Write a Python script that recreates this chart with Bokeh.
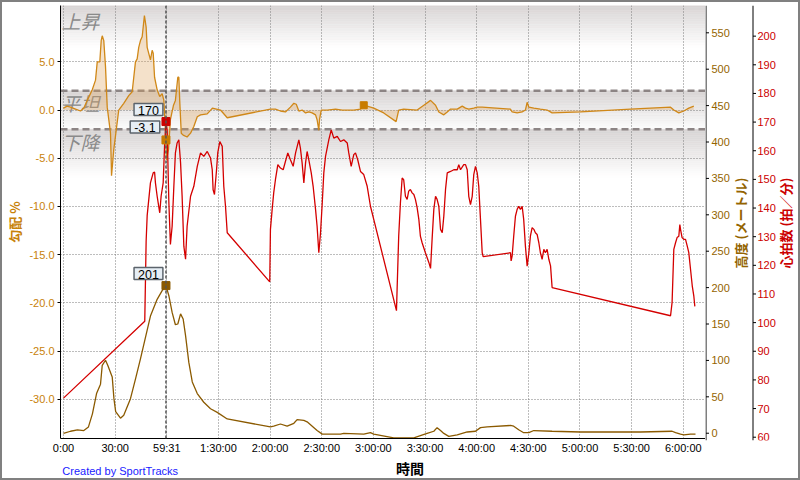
import math
import numpy as np
from bokeh.plotting import figure
from bokeh.layouts import column, row
from bokeh.models import Range1d, FixedTicker, NumeralTickFormatter, Span, Label
from bokeh.core.properties import value
from bokeh.embed import file_html
from bokeh.resources import INLINE

# ---------------- data (time in minutes) ----------------
grade_t = [0, 2.1, 4.1, 7.0, 9.9, 11.8, 13.8, 16.7, 18.6, 19.6, 21.1, 21.9, 22.5, 23.4, 24.4, 25.4, 27.3, 27.9, 29.2, 32.1,
           35.0, 37.9, 39.9, 41.8, 42.8, 43.7, 44.7, 45.7, 47.0, 48.0, 48.6, 50.5, 51.5, 52.1, 52.9, 54.4, 55.9, 57.3, 58.3, 59.5,
           59.8, 61.0, 62.1, 63.9, 65.0, 66.4, 67.0, 67.5, 68.4, 69.5, 71.8, 73.8, 75.7, 77.7, 79.6, 83.5, 86.5, 91.2, 95.1, 120.2,
           123.1, 126.0, 128.9, 131.8, 133.8, 135.2, 136.7, 138.6, 140.6, 142.5, 144.4, 146.4, 147.3, 148.3, 148.7, 149.7, 153.2, 158.0, 161.9, 168.6,
           172.5, 174.4, 178.3, 180.2, 186.0, 193.2, 194.7, 197.6, 205.4, 209.3, 213.2, 216.1, 218.0, 220.9, 222.9, 224.8, 228.7, 231.6, 233.5, 235.4,
           238.3, 240.3, 243.2, 259.6, 260.6, 263.5, 266.4, 268.3, 269.3, 270.3, 273.2, 277.0, 280.9, 283.8, 300.3, 329.3, 352.6, 354.5, 357.4, 360.3,
           363.2, 366.1]
grade_v = [0.2, 0.4, 0.3, 0.1, -0.1, 0.2, 1.0, 2.1, 3.1, 5.0, 5.0, 7.2, 7.7, 7.2, 4.5, 0.3, -2.4, -6.8, -4.1, 0.0,
           0.7, 1.5, 1.9, 5.0, 5.3, 6.5, 7.2, 7.6, 9.8, 8.6, 6.5, 5.2, 6.2, 5.9, 3.4, 2.1, 1.4, 1.7, 1.0, -3.1,
           -5.2, -4.1, -1.0, 0.5, 1.0, 3.4, 3.4, 1.0, -2.4, -2.6, -2.8, -2.4, -1.7, -0.7, -0.5, -0.4, 0.2, 0.0, -0.8, 0.1,
           0.1, -0.1, -0.2, 0.3, 0.7, 0.6, -0.1, 0.0, -0.3, -0.2, -0.3, -0.5, -1.0, -2.1, -1.0, 0.0, 0.0, 0.1, 0.0, 0.0,
           0.1, 0.5, 0.3, 0.2, -0.3, -1.2, 0.0, 0.1, 0.0, 0.5, 1.0, 0.5, -0.2, -0.5, -0.2, 0.1, 0.1, 0.4, 0.2, 0.1,
           0.2, 0.3, 0.3, 0.1, -0.2, -0.3, -0.2, 0.0, 0.8, 0.3, 0.2, 0.1, 0.0, -0.3, -0.2, 0.1, 0.3, 0.0, -0.3, -0.1,
           0.2, 0.4]

alt_t = [0, 4.1, 8.1, 11.8, 14.5, 16.8, 19.2, 21.5, 22.5, 24.4, 25.7, 28.3, 29.3, 30.3, 33.1, 35.0, 38.9, 41.8, 44.7, 50.5,
         54.4, 57.3, 59.5, 61.2, 63.1, 65.0, 66.4, 68.0, 69.5, 70.9, 72.8, 74.8, 77.7, 81.5, 85.4, 89.3, 95.1, 120.2, 122.1, 126.0,
         129.9, 133.8, 135.7, 139.6, 141.5, 147.3, 150.3, 160.9, 162.8, 174.4, 178.3, 180.2, 191.8, 203.5, 207.3, 211.2, 215.1, 217.0, 219.0, 220.9,
         223.8, 228.7, 231.6, 234.5, 239.3, 242.2, 246.1, 259.6, 261.5, 264.4, 267.3, 270.3, 273.2, 283.8, 300.3, 335.1, 353.5, 355.5, 358.4, 360.3,
         364.2, 367.1]
alt_v = [-3, 0, 2, 1, 6, 24, 52, 65, 91, 98, 91, 75, 45, 27, 18, 22, 45, 72, 100, 159,
         182, 194, 201, 187, 164, 147, 148, 162, 155, 132, 95, 68, 52, 40, 31, 26, 17, 6, 7, 10,
         7, 11, 16, 15, 13, 1, -4, -4, -3, -4, -2, -4, -9, -9, -6, -3, 0, 5, 1, -3,
         -7, -5, -3, -1, 0, 5, 6, 8, 7, 2, -2, -2, 1, 0, -1, -1, 0, -2, -4, -5,
         -4, -4]

hr_t = [0, 47.2, 48.0, 48.6, 50.5, 52.1, 52.9, 53.4, 54.4, 55.9, 56.7, 57.9, 58.7, 59.5, 60.2, 61.2, 62.1, 63.1, 64.1, 65.0,
        66.0, 67.0, 68.0, 68.9, 69.9, 70.9, 71.8, 73.8, 75.7, 77.7, 79.6, 81.5, 83.5, 85.4, 86.4, 86.9, 87.7, 88.9, 89.6, 90.8,
        92.2, 93.1, 94.1, 95.1, 119.8, 120.2, 121.2, 122.1, 123.1, 124.5, 126.0, 127.6, 128.9, 130.3, 131.8, 133.4, 134.8, 136.7, 137.6, 138.6,
        139.6, 140.6, 141.5, 142.5, 143.9, 145.0, 146.4, 147.3, 148.3, 149.3, 150.3, 151.2, 152.2, 154.1, 155.5, 157.0, 159.0, 160.9, 162.8, 164.8,
        165.7, 167.1, 168.6, 169.6, 170.9, 172.5, 174.4, 176.4, 178.3, 180.2, 193.4, 194.7, 195.7, 196.7, 197.6, 198.6, 199.6, 200.5, 201.5, 202.5,
        203.5, 204.4, 205.4, 206.4, 207.3, 208.3, 210.2, 212.2, 213.2, 214.1, 215.1, 216.1, 217.0, 218.0, 219.0, 220.0, 220.9, 221.9, 222.9, 224.8,
        226.7, 228.7, 229.6, 230.6, 232.5, 233.5, 234.5, 235.4, 236.4, 237.4, 238.3, 239.3, 240.3, 241.2, 242.2, 243.2, 243.8, 259.6, 260.0, 260.6,
        261.5, 262.5, 263.5, 264.4, 265.4, 266.4, 267.3, 268.3, 269.3, 270.3, 271.2, 272.2, 273.2, 274.1, 275.1, 276.1, 277.0, 278.0, 279.0, 279.9,
        280.9, 281.9, 282.9, 283.8, 352.6, 353.5, 354.5, 355.5, 356.4, 357.4, 358.0, 358.4, 359.3, 360.3, 361.3, 362.3, 363.2, 364.2, 365.2, 366.1,
        366.7]
hr_v = [73, 100, 128, 137, 148.5, 152, 152.3, 148.5, 143.8, 138, 143.8, 148.5, 161.3, 170, 167.1, 141.6, 126.9, 133.3, 147.3, 159,
        162.5, 163.6, 155.5, 143.8, 126.3, 121.7, 133.3, 143.8, 147.3, 154.3, 159, 157.8, 159.5, 157.2, 153.1, 146.1, 144.4, 153.1, 159, 163,
        161.3, 147.3, 140.3, 131, 113.8, 132.2, 139.2, 145, 149.6, 154.9, 153.7, 153.1, 156, 159, 156.6, 154.3, 159, 163.6, 160.7, 155.5,
        148.5, 155.5, 159.5, 156.6, 152, 147.3, 139.2, 133.3, 124, 131, 141.5, 152, 157.8, 163.6, 167.1, 164.2, 164.8, 163, 163.6, 162.5,
        159, 154.3, 158.4, 159, 156.6, 152.5, 151.4, 147.3, 140.3, 135.7, 103.7, 129.8, 141.5, 150.2, 149.6, 143.8, 142.7, 145.6, 146.2, 145,
        144.4, 142.7, 139.8, 135.7, 129.8, 127.5, 124, 120.6, 118.5, 128.7, 139.2, 143.8, 142.7, 140.3, 132.2, 131, 136.8, 146.2, 152, 152.5,
        153.1, 153.1, 154.9, 153.1, 154.9, 154.9, 153.1, 143.8, 140.9, 143.8, 151.4, 154.3, 152, 147.3, 135.7, 124, 122.6, 124, 121.1, 122.9,
        129.8, 136.8, 139.2, 140.3, 139.2, 140.3, 135.7, 126.3, 119.3, 124, 129.8, 132.8, 132.2, 131, 130.4, 127.5, 124, 121.7, 125.2, 124,
        125.2, 121.7, 119.4, 111.8, 101.9, 106.6, 125.2, 127.5, 129.3, 129.8, 133.9, 132.2, 129.3, 128.7, 128.7, 126.3, 124, 118.2, 112.4, 108.9,
        105.2]

x_ticks = [0, 30, 60, 90, 120, 150, 180, 210, 240, 270, 300, 330, 360]
x_tick_labels = ["0:00", "30:00", "59:31", "1:30:00", "2:00:00", "2:30:00", "3:00:00", "3:30:00",
                 "4:00:00", "4:30:00", "5:00:00", "5:30:00", "6:00:00"]
grade_ticks = [-30, -25, -20, -15, -10, -5, 0, 5]
alt_ticks = [0, 50, 100, 150, 200, 250, 300, 350, 400, 450, 500, 550]
hr_ticks = [60, 70, 80, 90, 100, 110, 120, 130, 140, 150, 160, 170, 180, 190, 200]

cursor_t = 59.52
cursor_hr = 170
cursor_grade = -3.1
cursor_alt = 201
mark_t = 174.4
mark_grade = 0.5

# ---------------- ranges ----------------
X0, X1 = -1.74, 372.9
G0, G1 = -34.06, 10.84
A0, A1 = -10.0, 587.5
H0, H1 = 58.85, 210.7

TICK_FONT = "Liberation Sans"
CJK = "Noto Sans CJK JP"
TOP, BOTTOM = 3, 16
PW, PH = 703, 454
ALT_COLOR, HR_COLOR, GRADE_COLOR = "#946400", "#cc0000", "#c8820a"

p = figure(width=PW, height=PH, x_range=Range1d(X0, X1), y_range=Range1d(G0, G1),
           output_backend="svg", toolbar_location=None,
           min_border_left=58, min_border_right=0, min_border_top=TOP, min_border_bottom=BOTTOM,
           background_fill_color="white", border_fill_color="white")
p.outline_line_color = None
p.extra_y_ranges = {"alt": Range1d(A0, A1), "hr": Range1d(H0, H1)}

# ---------------- background bands ----------------
def mix(c1, c2, f):
    a = [int(c1[i:i + 2], 16) for i in (1, 3, 5)]
    b = [int(c2[i:i + 2], 16) for i in (1, 3, 5)]
    return "#%02x%02x%02x" % tuple(int(round(a[k] + (b[k] - a[k]) * f)) for k in range(3))

def band(top, bottom, c_top, c_bot, n=24):
    edges = np.linspace(top, bottom, n + 1)
    cols = [mix(c_top, c_bot, (i + 0.5) / n) for i in range(n)]
    rr = p.quad(left=X0, right=X1, top=edges[:-1], bottom=edges[1:], fill_color=cols,
                line_color=cols, line_width=0.6)
    rr.level = "image"

band(G1, 6.5, "#d8d4d4", "#ffffff")
band(2.0, -2.0, "#d8d4d4", "#fcfcfc")
band(-2.0, -7.0, "#d8d4d4", "#ffffff")

for loc in (2.0, -2.0):
    p.add_layout(Span(location=loc, dimension="width", line_color="#8c8484", line_width=2.5,
                      line_dash="7 4", level="underlay"))

for txt, yv, yo in (("上昇", G1, -1), ("平坦", 2.0, 2), ("下降", -2.0, 1)):
    p.add_layout(Label(x=X0, y=yv, x_offset=1, y_offset=yo, text=txt, text_baseline="top",
                       text_align="left", text_font=CJK, text_font_size="19px",
                       text_font_style="italic", text_color="#8a8a8a", level="underlay"))

# ---------------- series ----------------
p.varea(x=grade_t, y1=0, y2=grade_v, fill_color="#dca25a", fill_alpha=0.32)
p.line(grade_t, grade_v, line_color="#d08818", line_width=1.3)
p.line(alt_t, alt_v, y_range_name="alt", line_color="#8b5a00", line_width=1.3)
p.line(hr_t, hr_v, y_range_name="hr", line_color="#d40000", line_width=1.3)

# cursor
p.add_layout(Span(location=cursor_t, dimension="height", line_color="#555555", line_width=1.5,
                  line_dash="3 2"))
p.scatter([cursor_t], [cursor_hr], y_range_name="hr", marker="square", size=8,
          fill_color="#cc0000", line_color="#cc0000")
p.scatter([cursor_t], [cursor_grade], marker="square", size=8,
          fill_color="#c87c00", line_color="#c87c00")
p.scatter([cursor_t], [cursor_alt], y_range_name="alt", marker="square", size=8,
          fill_color="#8b5a00", line_color="#8b5a00")
p.scatter([mark_t], [mark_grade], marker="square", size=7, fill_color="#c87c00", line_color="#c87c00")

def tip(x, y, txt, xo, yo, rng="default"):
    p.add_layout(Label(x=x, y=y, y_range_name=rng, text=txt, x_offset=xo, y_offset=yo,
                       text_align="center", text_baseline="middle", text_font="Liberation Sans",
                       text_font_size="12.5px", text_color="black",
                       background_fill_color="#e6eef5", border_line_color="#5c646c",
                       border_line_width=1.5, padding=dict(left=4, right=4, top=2, bottom=1)))

tip(cursor_t, cursor_hr, str(cursor_hr), -17.5, 12, "hr")
tip(cursor_t, cursor_grade, str(cursor_grade), -21, 13)
tip(cursor_t, cursor_alt, str(cursor_alt), -17.5, 12, "alt")

# ---------------- axes ----------------
def style_axis(ax, color):
    ax.axis_line_color = "black"
    ax.axis_line_width = 1
    ax.major_tick_line_color = "black"
    ax.major_tick_out = 3
    ax.major_tick_in = 0
    ax.minor_tick_out = 0
    ax.minor_tick_in = 0
    ax.major_label_standoff = 3
    ax.major_label_text_font = TICK_FONT
    ax.major_label_text_font_size = "11px"
    ax.major_label_text_color = color

xa = p.xaxis[0]
xa.ticker = FixedTicker(ticks=x_ticks)
xa.major_label_overrides = dict(zip(x_ticks, x_tick_labels))
style_axis(xa, "black")
xa.major_tick_out = 0
xa.major_label_standoff = 3

ya = p.yaxis[0]
ya.ticker = FixedTicker(ticks=grade_ticks)
ya.formatter = NumeralTickFormatter(format="0.0")
style_axis(ya, GRADE_COLOR)
ya.axis_label = "勾配 %"
ya.axis_label_text_font = CJK
ya.axis_label_text_font_size = "13px"
ya.axis_label_text_font_style = "bold"
ya.axis_label_text_color = GRADE_COLOR
ya.axis_label_standoff = 2

for g in (p.xgrid[0], p.ygrid[0]):
    g.grid_line_color = "#7a7a7a"
    g.grid_line_dash = "1 2"
    g.grid_line_width = 1

# ---------------- footer strip (x title + credit) ----------------
FH = 22
f = figure(width=PW, height=FH, x_range=Range1d(0, PW), y_range=Range1d(0, FH),
           output_backend="svg", toolbar_location=None, min_border=0,
           x_axis_type=None, y_axis_type=None, background_fill_color="white", border_fill_color="white")
f.outline_line_color = None
f.xgrid.visible = False
f.ygrid.visible = False
f.add_layout(Label(x=381, y=11, text="時間", text_align="center", text_baseline="middle",
                   text_font=CJK, text_font_size="14px", text_font_style="bold", text_color="black"))
f.add_layout(Label(x=2, y=8, text="Created by SportTracks", text_align="left", text_baseline="middle",
                   text_font="Liberation Sans", text_font_size="11px", text_color="#1a1aff"))

# ---------------- right strip: altitude and heart-rate scales ----------------
RW = 93
r = figure(width=RW, height=PH, x_range=Range1d(0, RW), y_range=Range1d(H0, H1),
           output_backend="svg", toolbar_location=None, x_axis_type=None, y_axis_type=None,
           min_border_left=0, min_border_right=0, min_border_top=TOP, min_border_bottom=BOTTOM,
           background_fill_color="white", border_fill_color="white")
r.outline_line_color = None
r.xgrid.visible = False
r.ygrid.visible = False
r.extra_y_ranges = {"alt": Range1d(A0, A1)}

AX_A, AX_H = 0.5, 47.5
# altitude scale
r.segment(x0=AX_A, y0=A0, x1=AX_A, y1=A1, y_range_name="alt", line_color="black", line_width=1)
r.segment(x0=AX_A, y0=alt_ticks, x1=AX_A + 3, y1=alt_ticks, y_range_name="alt",
          line_color="black", line_width=1)
r.text(x=AX_A + 5.5, y=alt_ticks, text=[str(v) for v in alt_ticks], y_range_name="alt",
       text_align="left", text_baseline="middle", text_font=value(TICK_FONT),
       text_font_size=value("11px"), text_color=ALT_COLOR)
r.add_layout(Label(x=35, y=(H0 + H1) / 2, text="高度 (メートル)", angle=math.pi / 2,
                   text_align="center", text_baseline="middle", text_font=CJK,
                   text_font_size="13px", text_font_style="bold", text_color=ALT_COLOR))
# heart-rate scale
r.segment(x0=AX_H, y0=H0, x1=AX_H, y1=H1, line_color="black", line_width=1)
r.segment(x0=AX_H, y0=hr_ticks, x1=AX_H + 3, y1=hr_ticks, line_color="black", line_width=1)
r.text(x=AX_H + 4.5, y=hr_ticks, text=[str(v) for v in hr_ticks],
       text_align="left", text_baseline="middle", text_font=value(TICK_FONT),
       text_font_size=value("11px"), text_color=HR_COLOR)
r.add_layout(Label(x=80, y=(H0 + H1) / 2, text="心拍数 (拍／分)", angle=math.pi / 2,
                   text_align="center", text_baseline="middle", text_font=CJK,
                   text_font_size="13px", text_font_style="bold", text_color=HR_COLOR))

layout = row(column(p, f, spacing=0), r, spacing=0,
             styles={"border": "2px solid #808080"})
open("out.html", "w").write(file_html(layout, INLINE))
